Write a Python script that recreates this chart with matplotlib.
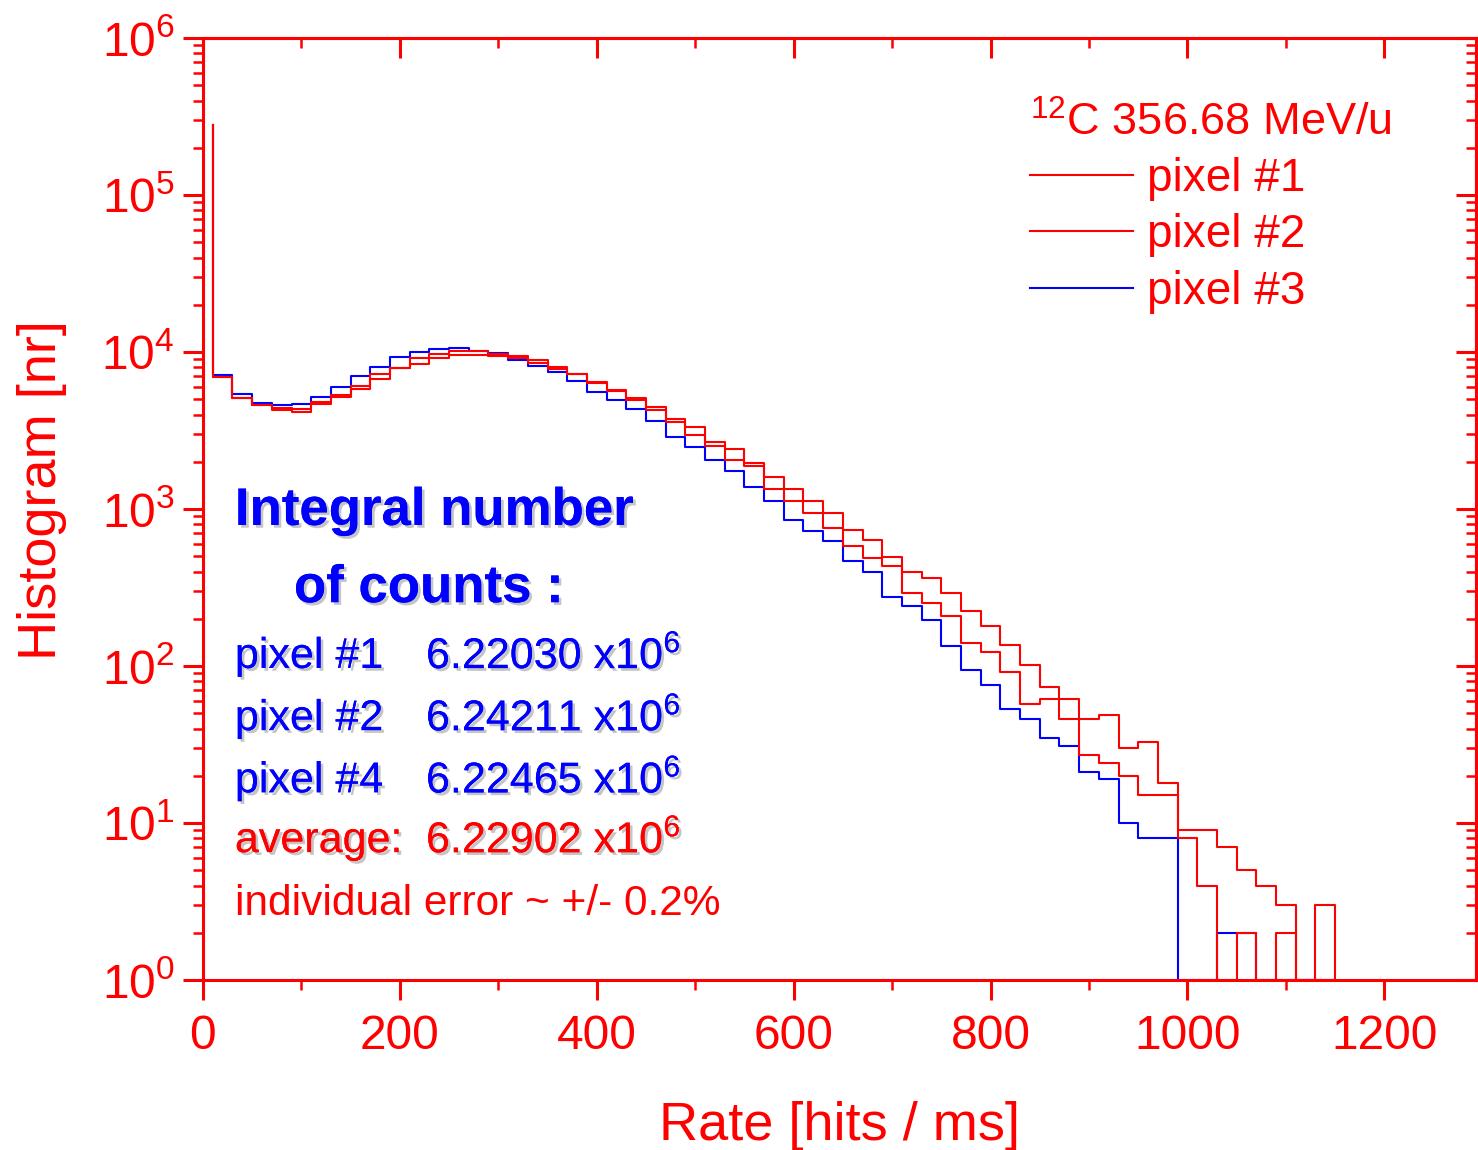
import numpy as np
import matplotlib
matplotlib.use("Agg")
import matplotlib.pyplot as plt
import matplotlib.patheffects as pe
from matplotlib.ticker import LogLocator, MultipleLocator, NullFormatter

plt.rcParams['font.family'] = ['Liberation Sans', 'DejaVu Sans']
plt.rcParams['mathtext.fontset'] = 'custom'
plt.rcParams['mathtext.rm'] = 'Liberation Sans'
plt.rcParams['mathtext.it'] = 'Liberation Sans:italic'
plt.rcParams['mathtext.bf'] = 'Liberation Sans:bold'

# histogram: bins of 20 hits/ms starting at 10
bin_width = 20
first_edge = 10
spike = 2.8e5   # first point at the left edge

pixel1 = [6900, 5115, 4577, 4418, 4354, 4825, 5323, 6073, 7211, 7873,
          9119, 9712, 10148, 10192, 9712, 9389, 8931, 7989, 7211, 6412,
          5728, 5115, 4444, 3743, 3330, 2684, 2422, 1963, 1592, 1335,
          1130, 947, 731, 635, 495, 397, 365, 290, 225, 181,
          136, 101, 73, 46, 46, 49, 30, 33, 18, 9,
          9, 7, 5, 4, 3, 0, 3]
pixel2 = [6900, 5115, 4577, 4272, 4130, 4665, 5146, 5838, 6761, 7873,
          8350, 9200, 9528, 9612, 9430, 9200, 8473, 7827, 7211, 6346,
          5644, 4946, 4272, 3582, 2947, 2519, 2052, 1879, 1347, 1130,
          939, 760, 581, 487, 435, 292, 251, 208, 140, 122,
          91, 57, 62, 62, 27, 24, 20, 15, 15, 8,
          4, 0, 2, 0, 2, 0, 0]
pixel3 = [7140, 5380, 4713, 4597, 4645, 5192, 5986, 7034, 8061, 9252,
          9956, 10496, 10604, 10192, 9855, 8931, 8178, 7489, 6537, 5586,
          4924, 4315, 3619, 2887, 2483, 2052, 1754, 1381, 1125, 855,
          727, 623, 469, 397, 274, 242, 196, 135, 95, 76,
          53, 46, 35, 31, 21, 19, 10, 8, 8, 0,
          0, 2, 2, 0, 0, 0, 0]

series_labels = ['pixel #1', 'pixel #2', 'pixel #3']
series_colors = ['#ff0000', '#ff0000', '#0000ff']
legend_title = r'$^{12}$C 356.68 MeV/u'

count_names = ['pixel #1', 'pixel #2', 'pixel #4', 'average:']
count_values = ['6.22030', '6.24211', '6.22465', '6.22902']
count_colors = ['#0000ff', '#0000ff', '#0000ff', '#ff0000']

RED = '#ff0000'
BLUE = '#0000ff'
ymin, ymax = 1, 1e6


def step_xy(values):
    v = np.array(values, dtype=float)
    edges = first_edge + bin_width * np.arange(len(v) + 1)
    x = np.concatenate([[edges[0]], edges])
    y = np.concatenate([[spike], v, [0]])
    # empty bins are drawn on the bottom of the log axis
    y = np.where(y > 0, y, ymin)
    return x, y


fig = plt.figure(figsize=(14.78, 11.5), dpi=100)
ax = fig.add_axes([0.1373, 0.1478, 0.8613, 0.8191])

handles = {}
# blue first so that the red histograms lie on top of it
for i in [2, 0, 1]:
    vals = [pixel1, pixel2, pixel3][i]
    x, y = step_xy(vals)
    h, = ax.plot(x, y, drawstyle='steps-post', color=series_colors[i], lw=1.5,
                 label=series_labels[i])
    handles[i] = h
handles = [handles[0], handles[1], handles[2]]

ax.set_yscale('log')
ax.set_xlim(0, 1293)
ax.set_ylim(ymin, ymax)

ax.xaxis.set_major_locator(MultipleLocator(200))
ax.xaxis.set_minor_locator(MultipleLocator(100))
ax.yaxis.set_major_locator(LogLocator(base=10, numticks=10))
ax.yaxis.set_minor_locator(LogLocator(base=10, subs=np.arange(2, 10), numticks=20))
ax.yaxis.set_minor_formatter(NullFormatter())

for sp in ax.spines.values():
    sp.set_color(RED)
    sp.set_linewidth(2.2)

ax.tick_params(which='major', direction='out', length=14.4, width=2.2, color=RED,
               labelcolor=RED, labelsize=34.5)
ax.tick_params(which='minor', direction='out', length=7.2, width=1.8, color=RED)
ax.tick_params(axis='x', which='major', pad=10)
ax.tick_params(axis='y', which='major', pad=6)

# top and right: ticks pointing inward, no labels
top = ax.secondary_xaxis('top')
top.xaxis.set_major_locator(MultipleLocator(200))
top.xaxis.set_minor_locator(MultipleLocator(100))
top.tick_params(which='major', direction='in', length=14.4, width=2.2, color=RED, labeltop=False)
top.tick_params(which='minor', direction='in', length=7.2, width=1.8, color=RED)
right = ax.secondary_yaxis('right')
right.yaxis.set_major_locator(LogLocator(base=10, numticks=10))
right.yaxis.set_minor_locator(LogLocator(base=10, subs=np.arange(2, 10), numticks=20))
right.tick_params(which='major', direction='in', length=14.4, width=2.2, color=RED, labelright=False)
right.tick_params(which='minor', direction='in', length=7.2, width=1.8, color=RED, labelright=False)
for s in (top, right):
    for sp in s.spines.values():
        sp.set_color(RED)
        sp.set_linewidth(2.2)

ax.set_xlabel('Rate [hits / ms]', fontsize=39, color=RED, labelpad=30)
ax.set_ylabel('Histogram [nr]', fontsize=39, color=RED, labelpad=25, y=0.52)

leg = ax.legend(handles=handles, labels=series_labels, title=legend_title,
                loc='upper right', bbox_to_anchor=(0.948, 0.952), frameon=False,
                fontsize=33, title_fontsize=32.5, handlelength=2.25, handletextpad=0.3,
                labelspacing=0.27, alignment='left', borderaxespad=0)
for t in leg.get_texts():
    t.set_color(RED)
leg.get_title().set_color(RED)

shadow = [pe.withSimplePatchShadow(offset=(2, -2), shadow_rgbFace='gray', alpha=0.45), pe.Normal()]

ax.text(0.0251, 0.498, 'Integral number', transform=ax.transAxes, fontsize=38,
        fontweight='bold', color=BLUE, va='center', ha='left', path_effects=shadow)
ax.text(0.0715, 0.416, 'of counts :', transform=ax.transAxes, fontsize=38,
        fontweight='bold', color=BLUE, va='center', ha='left', path_effects=shadow)

rows_y = [0.343, 0.277, 0.211, 0.1475]
for yy, name, val, col in zip(rows_y, count_names, count_values, count_colors):
    ax.text(0.0251, yy, name, transform=ax.transAxes, fontsize=31, color=col,
            va='center', ha='left', path_effects=shadow)
    ax.text(0.1752, yy, val + r' x10$^{6}$', transform=ax.transAxes, fontsize=31,
            color=col, va='center', ha='left', path_effects=shadow)
ax.text(0.0251, 0.081, 'individual error ~ +/- 0.2%', transform=ax.transAxes,
        fontsize=30.5, color=RED, va='center', ha='left')

fig.savefig('out.png', dpi=100)
